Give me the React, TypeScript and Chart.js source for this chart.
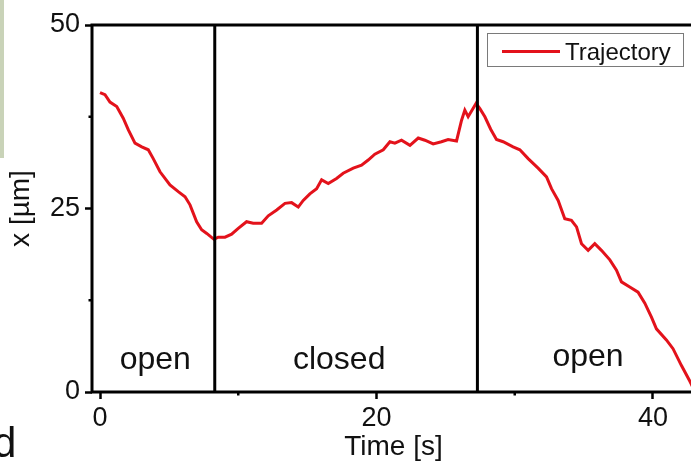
import React, { useEffect, useRef } from 'react';
import { Chart, registerables } from 'chart.js';

Chart.register(...registerables);

// Trajectory of the particle: time [s] and position x [µm]
const timeValues = [
  0, 0.36, 0.72, 1.21, 1.68, 2.05, 2.53, 3.02, 3.49, 3.85, 4.34, 5.06, 5.66, 6.15, 6.51, 6.99, 7.35, 7.72, 8.24,
  8.55, 9.04, 9.52, 10.0, 10.6, 11.08, 11.69, 12.17, 12.78, 13.38, 13.86, 14.34, 14.7, 15.18, 15.67, 16.03,
  16.51, 17.11, 17.59, 18.32, 18.92, 19.4, 19.88, 20.49, 20.97, 21.33, 21.81, 22.42, 23.02, 23.5, 24.1, 24.7,
  25.18, 25.79, 26.15, 26.39, 26.63, 27.2, 27.48, 27.84, 28.26, 28.68, 29.16, 29.88, 30.37, 30.97, 31.69,
  32.3, 32.66, 33.14, 33.62, 34.1, 34.47, 34.83, 35.31, 35.79, 36.27, 36.88, 37.36, 37.72, 38.32, 38.92,
  39.41, 39.89, 40.25, 40.97, 41.45, 42.06, 42.66, 43.0,
];
const positionValues = [
  40.8, 40.5, 39.5, 38.9, 37.3, 35.7, 33.9, 33.4, 33.0, 31.8, 30.0, 28.2, 27.3, 26.6, 25.5, 23.2, 22.1, 21.6, 20.8,
  21.1, 21.1, 21.5, 22.3, 23.2, 23.0, 23.0, 24.0, 24.8, 25.7, 25.8, 25.2, 26.1, 27.0, 27.7, 28.9,
  28.4, 29.1, 29.8, 30.5, 30.9, 31.6, 32.4, 33.0, 34.1, 33.9, 34.3, 33.6, 34.6, 34.3, 33.8, 34.1,
  34.4, 34.2, 37.0, 38.4, 37.5, 39.3, 38.6, 37.5, 35.8, 34.4, 34.1, 33.4, 33.0, 31.8, 30.5,
  29.3, 27.7, 26.1, 23.6, 23.4, 22.5, 20.2, 19.3, 20.2, 19.3, 18.0, 16.6, 15.0, 14.3, 13.6,
  12.1, 10.2, 8.6, 7.1, 5.9, 3.6, 1.5, 0.2,
];
const seriesLabel = 'Trajectory';

const xTickValues = [0, 20, 40];
const xMinorTicks = [10, 30];
const yTickValues = [0, 25, 50];
const yMinorTicks = [12.5, 37.5];

// Times at which the channel switches state, and the state names in between
const switchTimes = [8.3, 27.3];
const regionLabels = ['open', 'closed', 'open'];
const regionCenters = [4.0, 17.3, 35.3];
const regionBaselines = [3.1, 3.1, 3.5];

const FONT = "'Liberation Sans', Arial, Helvetica, sans-serif";
const LINE_RED = '#e3121b';
const INK = '#111';

const decorations = {
  id: 'decorations',
  beforeDraw(chart: any) {
    const { ctx } = chart;
    ctx.save();
    ctx.fillStyle = '#ffffff';
    ctx.fillRect(0, 0, chart.width, chart.height);
    // neighbouring panel edge
    ctx.fillStyle = '#c9d3b8';
    ctx.fillRect(0, 0, 4, 158);
    ctx.restore();
  },
  afterDatasetsDraw(chart: any) {
    const { ctx, chartArea: a, scales } = chart;
    const x = scales.x;
    const y = scales.y;
    ctx.save();
    ctx.strokeStyle = '#000';
    ctx.lineWidth = 3;
    ctx.lineJoin = 'miter';
    ctx.lineCap = 'butt';

    // frame: left, top and bottom axis lines
    ctx.beginPath();
    ctx.moveTo(a.left, a.bottom + 1.5);
    ctx.lineTo(a.left, a.top);
    ctx.lineTo(a.right + 6, a.top);
    ctx.moveTo(a.left - 1.5, a.bottom);
    ctx.lineTo(a.right + 6, a.bottom);
    ctx.stroke();

    // state switch markers
    switchTimes.forEach((t) => {
      const px = x.getPixelForValue(t);
      ctx.beginPath();
      ctx.moveTo(px, a.top);
      ctx.lineTo(px, a.bottom);
      ctx.stroke();
    });

    // minor ticks
    ctx.lineWidth = 2.5;
    yMinorTicks.forEach((v) => {
      const py = y.getPixelForValue(v);
      ctx.beginPath();
      ctx.moveTo(a.left - 3.5, py);
      ctx.lineTo(a.left, py);
      ctx.stroke();
    });
    xMinorTicks.forEach((v) => {
      const px = x.getPixelForValue(v);
      ctx.beginPath();
      ctx.moveTo(px, a.bottom);
      ctx.lineTo(px, a.bottom + 3.5);
      ctx.stroke();
    });

    // state names
    ctx.fillStyle = INK;
    ctx.font = `32px ${FONT}`;
    ctx.textAlign = 'center';
    ctx.textBaseline = 'alphabetic';
    regionLabels.forEach((s, i) => {
      ctx.fillText(s, x.getPixelForValue(regionCenters[i]), y.getPixelForValue(regionBaselines[i]));
    });

    // legend box
    const ds = chart.data.datasets[0];
    const bx = a.right - 207.5;
    const by = a.top + 8.5;
    ctx.fillStyle = '#fff';
    ctx.fillRect(bx, by, 196, 33);
    ctx.strokeStyle = '#7a7a7a';
    ctx.lineWidth = 1;
    ctx.strokeRect(bx, by, 196, 33);
    ctx.strokeStyle = ds.borderColor;
    ctx.lineWidth = 3;
    ctx.beginPath();
    ctx.moveTo(bx + 14.5, by + 18);
    ctx.lineTo(bx + 72.5, by + 18);
    ctx.stroke();
    ctx.fillStyle = INK;
    ctx.font = `24px ${FONT}`;
    ctx.textAlign = 'left';
    ctx.fillText(ds.label, bx + 77.5, by + 26);

    // panel letter
    ctx.font = `42px ${FONT}`;
    ctx.fillText('d', -7, 457);
    ctx.restore();
  },
};

export default function App() {
  const canvasRef = useRef<HTMLCanvasElement | null>(null);

  useEffect(() => {
    const canvas = canvasRef.current;
    if (!canvas) return;
    const chart = new Chart(canvas, {
      type: 'scatter',
      data: {
        datasets: [
          {
            label: seriesLabel,
            data: timeValues.map((t, i) => ({ x: t, y: positionValues[i] })),
            showLine: true,
            borderColor: LINE_RED,
            backgroundColor: LINE_RED,
            borderWidth: 3,
            pointRadius: 0,
            tension: 0,
            fill: false,
          },
        ],
      },
      options: {
        animation: false,
        responsive: false,
        events: [],
        layout: { padding: { top: 25, right: 5, left: 0, bottom: 0 } },
        plugins: {
          legend: { display: false },
          tooltip: { enabled: false },
        },
        scales: {
          x: {
            type: 'linear',
            min: -0.58,
            max: 43.04,
            afterFit: (s: any) => {
              s.height = 73;
            },
            afterBuildTicks: (s: any) => {
              s.ticks = xTickValues.map((v) => ({ value: v }));
            },
            border: { display: false },
            grid: {
              display: true,
              drawOnChartArea: false,
              drawTicks: true,
              tickLength: 7,
              tickWidth: 2.5,
              tickColor: '#000',
            },
            ticks: {
              color: INK,
              font: { family: FONT, size: 27 },
              padding: 3,
              maxRotation: 0,
              autoSkip: false,
            },
            title: {
              display: true,
              text: 'Time [s]',
              color: INK,
              font: { family: FONT, size: 28 },
              padding: { top: 0, bottom: 1 },
            },
          },
          y: {
            type: 'linear',
            min: 0,
            max: 50,
            afterFit: (s: any) => {
              s.width = 92;
            },
            afterBuildTicks: (s: any) => {
              s.ticks = yTickValues.map((v) => ({ value: v }));
            },
            border: { display: false },
            grid: {
              display: true,
              drawOnChartArea: false,
              drawTicks: true,
              tickLength: 7,
              tickWidth: 2.5,
              tickColor: '#000',
            },
            ticks: {
              color: INK,
              font: { family: FONT, size: 27 },
              padding: 5,
              autoSkip: false,
            },
            title: {
              display: true,
              text: 'x [µm]',
              color: INK,
              font: { family: FONT, size: 28 },
              padding: { top: 4, bottom: 0 },
            },
          },
        },
      },
      plugins: [decorations],
    });
    return () => chart.destroy();
  }, []);

  return (
    <div
      style={{
        position: 'absolute',
        left: 0,
        top: 0,
        width: 691,
        height: 465,
        overflow: 'hidden',
        background: '#fff',
      }}
    >
      <canvas ref={canvasRef} width={700} height={465} style={{ display: 'block' }} />
    </div>
  );
}
